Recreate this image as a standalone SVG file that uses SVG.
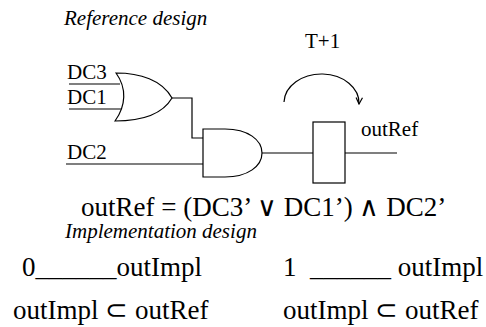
<svg xmlns="http://www.w3.org/2000/svg" width="486" height="327" viewBox="0 0 486 327">
<defs>
<style>
text{font-family:"Liberation Serif","Times New Roman",serif;fill:#000}
.it{font-style:italic;font-size:21px}
.lb{font-size:21px}
.big{font-size:27px}
.w{fill:none;stroke:#000;stroke-width:1.2}
.g{fill:#fff;stroke:#000;stroke-width:1.2}
</style>
<marker id="ah" viewBox="0 0 10 10" refX="9" refY="5" markerWidth="8" markerHeight="8" orient="auto" markerUnits="userSpaceOnUse">
<path d="M1,1 L9,5 L1,9" fill="none" stroke="#000" stroke-width="1.5"/>
</marker>
</defs>
<rect width="486" height="327" fill="#fff"/>
<text class="it" x="64" y="25">Reference design</text>
<g id="connectors">
<path class="w" d="M69,84 H120"/>
<path class="w" d="M69,109 H121"/>
<path class="w" d="M66,164 H203"/>
<path class="w" d="M172,98 H192 V138 H203"/>
<path class="w" d="M262,153 H313"/>
<path class="w" d="M345,153 H397"/>
<path class="w" d="M284,102 A37.5,29 0 0 1 359,104" marker-end="url(#ah)"/>
</g>
<g id="or-gate">
<path class="g" d="M116,73 C140,73 162,80 172,98 C162,115 140,121 115,121 C126,106 127,88 116,73 Z"/>
</g>
<g id="and-gate">
<path class="g" d="M203,129 H225 C248,129 262,140 262,153 C262,166 248,177 225,177 H203 Z"/>
</g>
<g id="register">
<rect class="g" x="313" y="122" width="32" height="61"/>
</g>
<text class="lb" x="67" y="79">DC3</text>
<text class="lb" x="67" y="104">DC1</text>
<text class="lb" x="67" y="159">DC2</text>
<text class="lb" x="305" y="48">T+1</text>
<text class="lb" x="361" y="136">outRef</text>
<text class="big" x="81" y="216" xml:space="preserve">outRef = (DC3’ ∨ DC1’) ∧ DC2’</text>
<text class="it" x="65" y="238">Implementation design</text>
<text class="big" x="22" y="276">0______outImpl</text>
<text class="big" x="283" y="276" xml:space="preserve">1  ______ outImpl</text>
<text class="big" x="13" y="319">outImpl ⊂ outRef</text>
<text class="big" x="283" y="319">outImpl ⊂ outRef</text>
</svg>
